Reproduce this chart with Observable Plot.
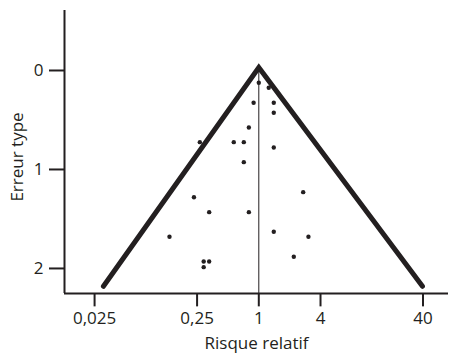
<!DOCTYPE html>
<html>
<head>
<meta charset="utf-8">
<script src="https://cdn.jsdelivr.net/npm/d3@7"></script>
<script src="https://cdn.jsdelivr.net/npm/@observablehq/plot@0.6"></script>
<style>
  html, body { margin: 0; padding: 0; background: #fff; }
  #chart svg { display: block; }
</style>
</head>
<body>
<div id="chart"></div>
<script>
// Studies: relative risk (x) and standard error (y)
const relativeRisk = [1.0, 1.25, 0.89, 1.40, 1.40, 0.80, 0.266, 0.57, 0.714, 1.40, 0.714,
  2.71, 0.233, 0.328, 0.80, 0.1345, 1.40, 3.05, 2.195, 0.29, 0.328, 0.29];
const standardError = [0.124, 0.175, 0.326, 0.326, 0.427, 0.576, 0.724, 0.724, 0.724, 0.778, 0.926,
  1.229, 1.28, 1.431, 1.431, 1.68, 1.629, 1.68, 1.882, 1.929, 1.929, 1.987];

// Funnel (triangle) vertices
const funnelRR = [0.0305, 1, 39.5];
const funnelSE = [2.18, -0.03, 2.18];

// Axis ticks
const xTicks = [0.025, 0.25, 1, 4, 40];
const xTickLabels = ["0,025", "0,25", "1", "4", "40"];
const yTicks = [0, 1, 2];
const yTickLabels = ["0", "1", "2"];

const studies = relativeRisk.map((rr, i) => ({rr, se: standardError[i]}));
const funnel = funnelRR.map((rr, i) => ({rr, se: funnelSE[i]}));
const xTickData = xTicks.map((t, i) => ({t, label: xTickLabels[i]}));

const ink = "#231f20";
const font = "'Open Sans', sans-serif";
const xMin = 0.01272, xMax = 70.9;
const yMin = -0.606, yMax = 2.253;

const chart = Plot.plot({
  width: 449,
  height: 358,
  marginLeft: 64,
  marginRight: 1,
  marginTop: 10,
  marginBottom: 65,
  style: {fontFamily: font, fontSize: "17px", color: ink, background: "#fff"},
  x: {type: "log", domain: [xMin, xMax], axis: null},
  y: {domain: [yMin, yMax], reverse: true},
  marks: [
    Plot.ruleX([1], {y1: -0.03, y2: yMax, stroke: ink, strokeWidth: 1}),
    Plot.line(funnel, {x: "rr", y: "se", stroke: ink, strokeWidth: 5, strokeLinejoin: "miter", strokeMiterlimit: 10}),
    Plot.dot(studies, {x: "rr", y: "se", r: 2.2, fill: ink, stroke: "none"}),
    // x axis: ticks and labels
    Plot.ruleX(xTickData, {x: "t", y1: yMax, y2: yMax + 0.135, stroke: ink, strokeWidth: 2}),
    Plot.text(xTickData, {x: "t", frameAnchor: "bottom", dy: 30, text: "label", fill: ink, fontSize: 17}),
    // y axis
    Plot.axisY({ticks: yTicks, tickFormat: d => yTickLabels[yTicks.indexOf(d)], tickSize: 15, tickPadding: 6,
      strokeWidth: 2, stroke: ink, fill: ink, label: null, fontSize: 17}),
    Plot.ruleY([yMax], {stroke: ink, strokeWidth: 2}),
    Plot.ruleX([xMin], {stroke: ink, strokeWidth: 2}),
    Plot.text(["Risque relatif"], {frameAnchor: "bottom", dy: 55, fill: ink, fontSize: 17, text: d => d}),
    Plot.text(["Erreur type"], {frameAnchor: "left", textAnchor: "middle", dx: -46.5, dy: 5, rotate: -90, fill: ink, fontSize: 17, text: d => d})
  ]
});
document.getElementById("chart").appendChild(chart);
</script>
</body>
</html>
